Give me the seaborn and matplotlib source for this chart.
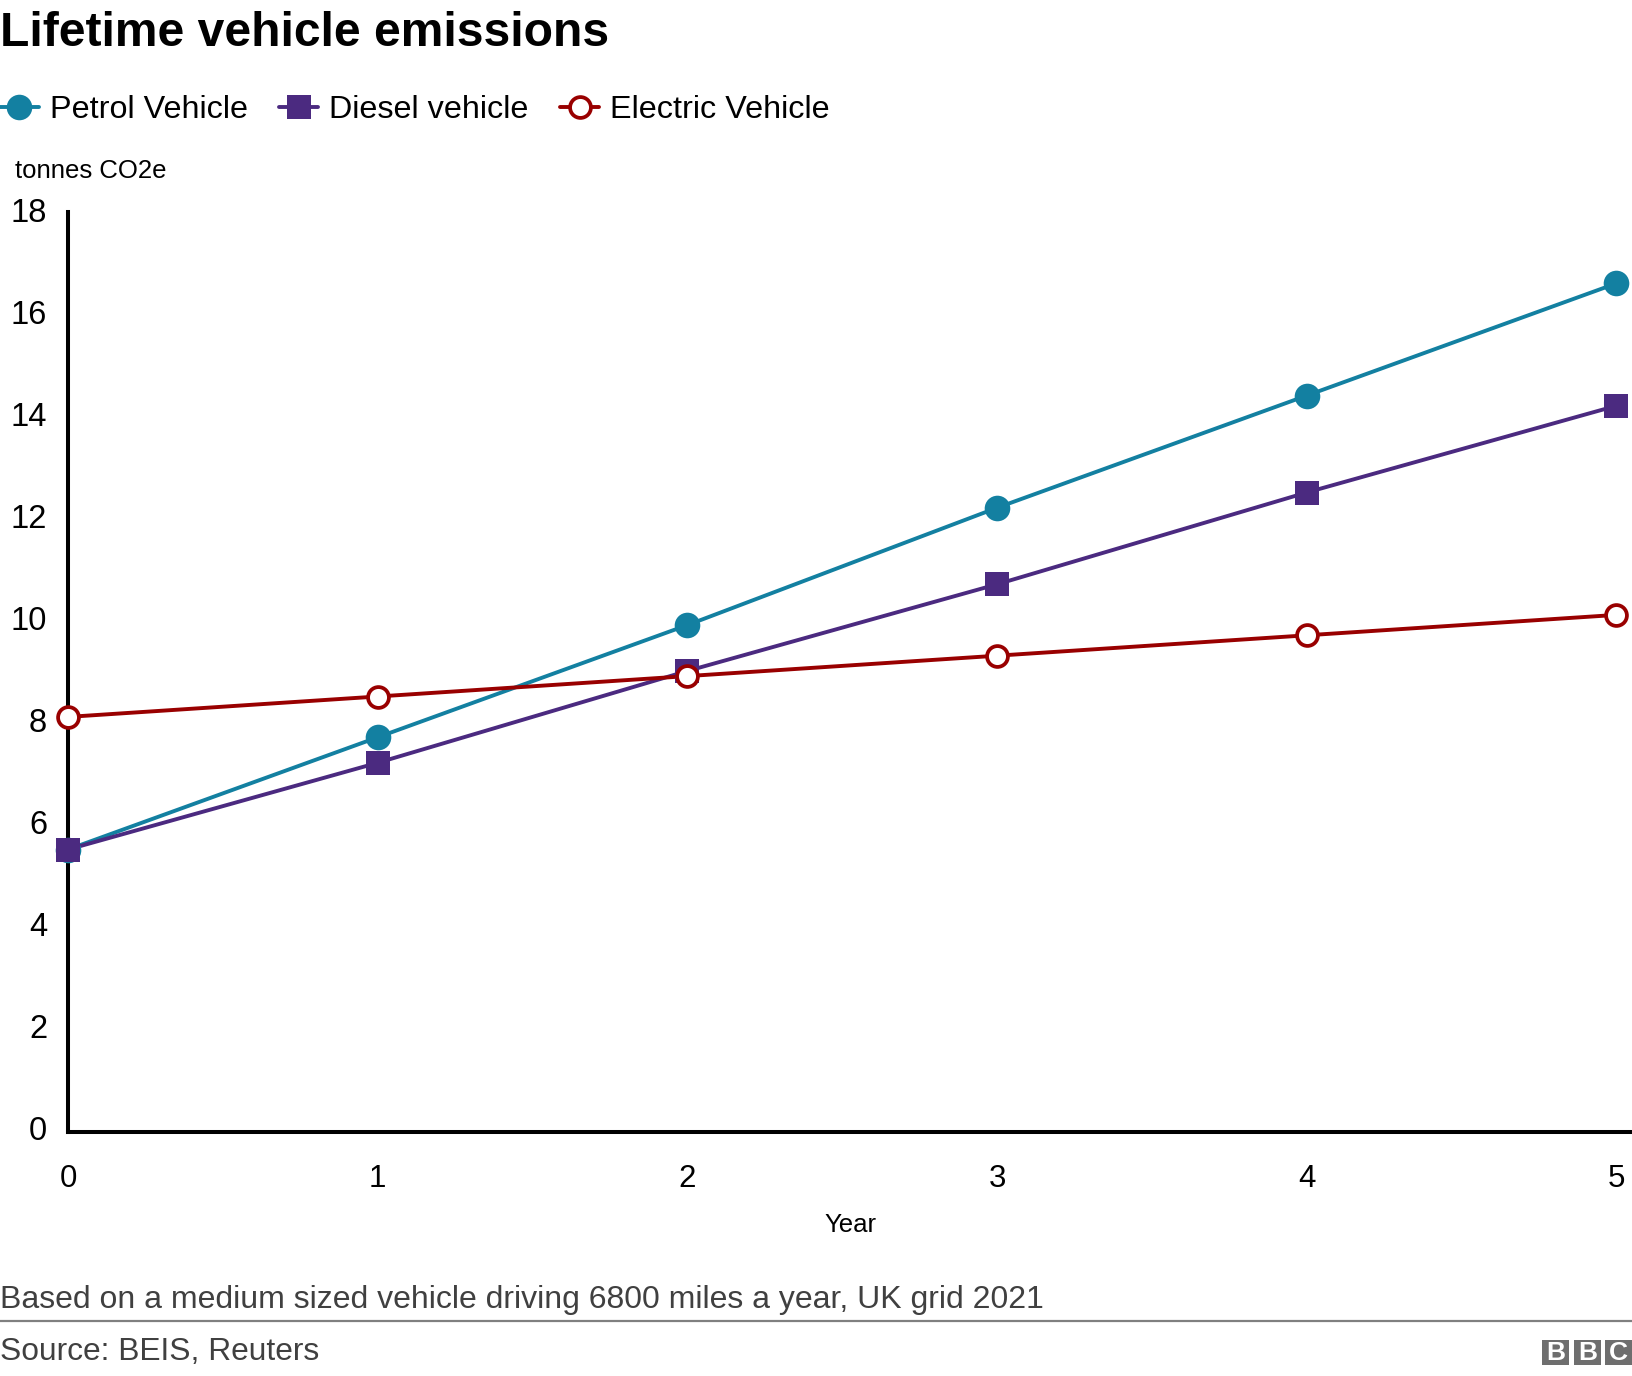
import matplotlib
matplotlib.use('Agg')
import matplotlib.pyplot as plt
from matplotlib.lines import Line2D
from matplotlib.patches import Rectangle
from matplotlib.transforms import ScaledTranslation
import pandas as pd
import seaborn as sns

years = [0, 1, 2, 3, 4, 5]
petrol = [5.5, 7.7, 9.9, 12.2, 14.4, 16.6]
diesel = [5.5, 7.2, 9.0, 10.7, 12.5, 14.2]
electric = [8.1, 8.5, 8.9, 9.3, 9.7, 10.1]
y_ticks = [0, 2, 4, 6, 8, 10, 12, 14, 16, 18]

W, H = 1632, 1376
PETROL_COL = '#1380a1'
DIESEL_COL = '#4b2a80'
ELECTRIC_COL = '#990000'

sns.set_theme(style='white')
plt.rcParams['font.family'] = ['Liberation Sans', 'DejaVu Sans']

df = pd.concat([
    pd.DataFrame({'Year': years, 'value': petrol, 'series': 'Petrol Vehicle'}),
    pd.DataFrame({'Year': years, 'value': diesel, 'series': 'Diesel vehicle'}),
    pd.DataFrame({'Year': years, 'value': electric, 'series': 'Electric Vehicle'}),
])

fig = plt.figure(figsize=(W / 100, H / 100), dpi=100, facecolor='white')

# axes placed in pixels: left 68, right edge of the image, y from 212 to 1132
ax = fig.add_axes([68 / W, 1 - 1132 / H, (W - 68) / W, (1132 - 212) / H])

palette = {'Petrol Vehicle': PETROL_COL, 'Diesel vehicle': DIESEL_COL, 'Electric Vehicle': ELECTRIC_COL}
sns.lineplot(data=df, x='Year', y='value', hue='series', palette=palette, linewidth=2.8,
             legend=False, ax=ax, clip_on=False, zorder=3)

# markers drawn on top through the same axes
sns.scatterplot(x=years, y=petrol, color=PETROL_COL, marker='o', s=340, linewidth=0, ax=ax, zorder=4, clip_on=False)
sns.scatterplot(x=years, y=diesel, color=DIESEL_COL, marker='s', s=320, linewidth=0, ax=ax, zorder=5, clip_on=False)
sns.scatterplot(x=years, y=electric, color='white', edgecolor=ELECTRIC_COL, marker='o', s=225, linewidth=2.7,
                ax=ax, zorder=6, clip_on=False)

# value 0 sits on pixel 66 / 1130, the axis lines just past it
x_unit = (1616.3 - 66) / 5
y_unit = (1130 - 212) / 18
ax.set_xlim((68 - 66) / x_unit, (W - 66) / x_unit)
ax.set_ylim(-(1132 - 1130) / y_unit, 18)
ax.set_xticks(years)
ax.set_yticks(y_ticks)
ax.grid(False)
ax.set_xlabel('')
ax.set_ylabel('')
ax.tick_params(axis='x', length=0, pad=23, labelsize=22.5, colors='black')
ax.tick_params(axis='y', length=0, pad=15, labelsize=23.5, colors='black')

# the y labels sit a touch above their value in the original
shift = ScaledTranslation(0, 1.5 / 100, fig.dpi_scale_trans)
for lab in ax.get_yticklabels():
    lab.set_transform(lab.get_transform() + shift)
for side in ['top', 'right']:
    ax.spines[side].set_visible(False)
for side in ['left', 'bottom']:
    ax.spines[side].set_color('black')
    ax.spines[side].set_linewidth(2.9)


def put_text(x, y, s, size, color='black', weight='normal', ha='left'):
    fig.text(x / W, 1 - y / H, s, fontsize=size, color=color, fontweight=weight, ha=ha, va='center')


put_text(0, 33, 'Lifetime vehicle emissions', 34.6, weight='bold')
put_text(15, 171, 'tonnes CO2e', 18.5)
put_text(850, 1225, 'Year', 18.5, ha='center')
put_text(0, 1300, 'Based on a medium sized vehicle driving 6800 miles a year, UK grid 2021', 23, color='#404040')
put_text(0, 1352, 'Source: BEIS, Reuters', 22.9, color='#404040')

handles = [
    Line2D([], [], color=PETROL_COL, marker='o', markersize=18.4, markeredgewidth=0, linewidth=2.8),
    Line2D([], [], color=DIESEL_COL, marker='s', markersize=17.9, markeredgewidth=0, linewidth=2.8),
    Line2D([], [], color=ELECTRIC_COL, marker='o', markersize=15, markerfacecolor='white', markeredgewidth=2.7, linewidth=2.8),
]
fig.legend(handles, ['Petrol Vehicle', 'Diesel vehicle', 'Electric Vehicle'], ncol=3, frameon=False,
           loc='center left', bbox_to_anchor=(0, 1 - 110 / H), borderaxespad=0, borderpad=0,
           fontsize=23.35, handlelength=1.2, handletextpad=0.33, columnspacing=0.98, labelcolor='black')

# footer rule and BBC blocks
fig.add_artist(Line2D([0, 1], [1 - 1321 / H, 1 - 1321 / H], color='#808080', linewidth=1.6))
for left, letter in zip([1542, 1574, 1605], 'BBC'):
    fig.add_artist(Rectangle((left / W, 1 - 1365 / H), 27 / W, 25 / H, color='#6e6e6e', linewidth=0))
    fig.text((left + 13.5) / W, 1 - 1353 / H, letter, fontsize=19, color='white', fontweight='bold', ha='center', va='center')

plt.savefig('out.png', dpi=100)
